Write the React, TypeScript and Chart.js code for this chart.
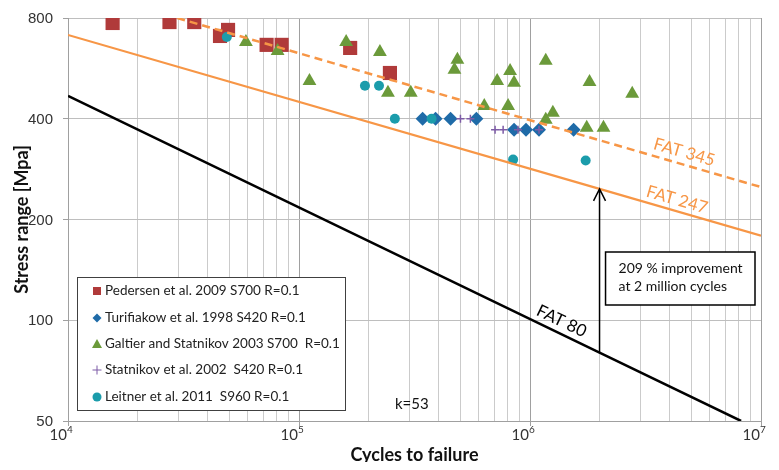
import React, { useEffect, useRef } from 'react';
import { Chart, registerables } from 'chart.js';

Chart.register(...registerables);

// Axis ranges and ticks
const X_MIN = 1e4;
const X_MAX = 1e7;
const Y_MIN = 50;
const Y_MAX = 800;
const Y_TICKS = [50, 100, 200, 400, 800];
const X_DECADE_EXP = [4, 5, 6, 7];

// Test series: cycles to failure (N) and stress range (S, MPa)
const pedersenN = [15600, 27500, 35200, 45500, 49300, 72400, 84100, 166500, 247500];
const pedersenS = [773, 778, 778, 707, 737, 665, 665, 651, 548];

const turifiakowN = [343000, 390000, 453000, 586000, 853000, 961000, 1094000, 1545000];
const turifiakowS = [400, 400, 400, 400, 371, 371, 371, 371];

const galtierN = [58900, 80800, 111000, 160000, 224000, 242700, 304700, 485000, 471000, 634000, 721000,
  820000, 853000, 804000, 1170000, 1256000, 1170000, 1810000, 1760000, 2080000, 2770000];
const galtierS = [678, 638, 519, 678, 633, 478, 478, 600, 560, 437, 519,
  556, 512, 437, 596, 417, 397, 515, 376, 376, 475];

const statnikovN = [500000, 552000, 706000, 765000, 887000, 1094000];
const statnikovS = [400, 400, 371, 371, 371, 371];

const leitnerN = [48700, 193000, 222000, 260000, 375000, 845000, 1742000];
const leitnerS = [702, 502, 502, 400, 400, 302, 300];

// Design S-N curves (straight in log-log)
const fat345N = [29700, 2e6, 1e7];
const fat345S = [800, 345, 250];
const fat247N = [1e4, 2e6, 1e7];
const fat247S = [712, 247, 179];
const fat80N = [1e4, 2e6, 8.2e6];
const fat80S = [468, 80, 50];

// Improvement arrow at 2 million cycles
const improvementN = 2e6;
const improvementFrom = 80;
const improvementTo = 247;

const legendNames = [
  'Pedersen et al. 2009 S700 R=0.1',
  'Turifiakow et al. 1998 S420 R=0.1',
  'Galtier and Statnikov 2003 S700  R=0.1',
  'Statnikov et al. 2002  S420 R=0.1',
  'Leitner et al. 2011  S960 R=0.1',
];

const RED = '#B03A3A';
const BLUE = '#1F6BA8';
const GREEN = '#6B9A3A';
const PURPLE = '#7D5BA6';
const TEAL = '#1B9CAB';
const ORANGE = '#F79646';

const toPts = (xs: number[], ys: number[]) => xs.map((x, i) => ({ x, y: ys[i] }));

export default function App() {
  const ref = useRef<HTMLCanvasElement>(null);

  useEffect(() => {
    const canvas = ref.current;
    if (!canvas) return;

    const overlay = {
      id: 'overlay',
      afterDraw(chart: any) {
        const ctx: CanvasRenderingContext2D = chart.ctx;
        const area = chart.chartArea;
        const xS = chart.scales.x;
        const yS = chart.scales.y;
        ctx.save();

        // y tick labels
        ctx.fillStyle = '#333333';
        ctx.font = '15px "Liberation Sans"';
        ctx.textAlign = 'right';
        ctx.textBaseline = 'middle';
        Y_TICKS.forEach((v) => {
          ctx.fillText(String(v), area.left - 15, yS.getPixelForValue(v) + 1);
        });

        // x tick labels as 10^n
        X_DECADE_EXP.forEach((e) => {
          const px = xS.getPixelForValue(Math.pow(10, e));
          ctx.font = '15px Lato';
          ctx.textAlign = 'right';
          ctx.fillText('10', px - 1, area.bottom + 14);
          ctx.font = '10px Lato';
          ctx.textAlign = 'left';
          ctx.fillText(String(e), px - 1, area.bottom + 9);
        });

        // axis titles
        ctx.fillStyle = '#111111';
        ctx.font = 'bold 18px Lato';
        ctx.textAlign = 'center';
        ctx.fillText('Cycles to failure', (area.left + area.right) / 2, area.bottom + 34);
        ctx.save();
        ctx.translate(area.left - 46, (area.top + area.bottom) / 2);
        ctx.rotate(-Math.PI / 2);
        ctx.fillText('Stress range [Mpa]', 0, 0);
        ctx.restore();

        // labels along the design curves
        const labelOnLine = (text: string, xs: number[], ys: number[], atN: number, offset: number, color: string) => {
          let i = 0;
          while (i < xs.length - 2 && atN > xs[i + 1]) i++;
          const x1 = xS.getPixelForValue(xs[i]);
          const y1 = yS.getPixelForValue(ys[i]);
          const x2 = xS.getPixelForValue(xs[i + 1]);
          const y2 = yS.getPixelForValue(ys[i + 1]);
          const ang = Math.atan2(y2 - y1, x2 - x1);
          const px = xS.getPixelForValue(atN);
          const py = y1 + ((px - x1) / (x2 - x1)) * (y2 - y1);
          ctx.save();
          ctx.translate(px + offset * Math.sin(ang), py - offset * Math.cos(ang));
          ctx.rotate(ang);
          ctx.fillStyle = color;
          ctx.font = '17px Lato';
          ctx.textAlign = 'center';
          ctx.textBaseline = 'middle';
          ctx.fillText(text, 0, 0);
          ctx.restore();
        };
        labelOnLine('FAT 345', fat345N, fat345S, 4.5e6, 12, ORANGE);
        labelOnLine('FAT 247', fat247N, fat247S, 4.2e6, 11, ORANGE);
        labelOnLine('FAT 80', fat80N, fat80S, 1.3e6, 12, '#000000');

        // improvement arrow
        const ax = xS.getPixelForValue(improvementN);
        const ay0 = yS.getPixelForValue(improvementFrom);
        const ay1 = yS.getPixelForValue(improvementTo);
        ctx.strokeStyle = '#000000';
        ctx.lineWidth = 1.5;
        ctx.beginPath();
        ctx.moveTo(ax, ay0);
        ctx.lineTo(ax, ay1);
        ctx.moveTo(ax - 6, ay1 + 12);
        ctx.lineTo(ax, ay1);
        ctx.lineTo(ax + 6, ay1 + 12);
        ctx.stroke();

        // improvement note
        const bx = ax + 6;
        const by = area.top + 234;
        const bw = area.right - 6 - bx;
        const bh = 53;
        ctx.fillStyle = '#FFFFFF';
        ctx.fillRect(bx, by, bw, bh);
        ctx.lineWidth = 1.5;
        ctx.strokeRect(bx, by, bw, bh);
        ctx.fillStyle = '#111111';
        ctx.font = '14px Lato';
        ctx.textAlign = 'left';
        ctx.textBaseline = 'middle';
        ctx.fillText('209 % improvement', bx + 13, by + 16);
        ctx.fillText('at 2 million cycles', bx + 13, by + 34);

        // k label
        ctx.font = '15px Lato';
        ctx.fillText('k=53', area.left + 327, area.top + 386);

        // legend
        const lx = area.left + 9;
        const ly = area.top + 259;
        const lw = 268;
        const lh = 133;
        ctx.fillStyle = '#FFFFFF';
        ctx.fillRect(lx, ly, lw, lh);
        ctx.strokeStyle = '#404040';
        ctx.lineWidth = 1;
        ctx.strokeRect(lx + 0.5, ly + 0.5, lw, lh);
        const rowY = [14, 41, 67, 93, 120];
        legendNames.forEach((name, i) => {
          const cy = ly + rowY[i];
          const cx = lx + 20;
          ctx.beginPath();
          if (i === 0) {
            ctx.fillStyle = RED;
            ctx.fillRect(cx - 4, cy - 4, 8, 8);
          } else if (i === 1) {
            ctx.fillStyle = BLUE;
            ctx.moveTo(cx - 4.5, cy);
            ctx.lineTo(cx, cy - 4.5);
            ctx.lineTo(cx + 4.5, cy);
            ctx.lineTo(cx, cy + 4.5);
            ctx.closePath();
            ctx.fill();
          } else if (i === 2) {
            ctx.fillStyle = GREEN;
            ctx.moveTo(cx, cy - 5);
            ctx.lineTo(cx + 5, cy + 4);
            ctx.lineTo(cx - 5, cy + 4);
            ctx.closePath();
            ctx.fill();
          } else if (i === 3) {
            ctx.strokeStyle = PURPLE;
            ctx.lineWidth = 1;
            ctx.moveTo(cx - 4.5, cy);
            ctx.lineTo(cx + 4.5, cy);
            ctx.moveTo(cx, cy - 4.5);
            ctx.lineTo(cx, cy + 4.5);
            ctx.stroke();
          } else {
            ctx.fillStyle = TEAL;
            ctx.arc(cx, cy, 4.5, 0, Math.PI * 2);
            ctx.fill();
          }
          ctx.fillStyle = '#222222';
          ctx.font = '13.5px Lato';
          ctx.textAlign = 'left';
          ctx.textBaseline = 'middle';
          ctx.fillText(name, lx + 28, cy);
        });

        ctx.restore();
      },
    };

    const isDecade = (v: number) => Math.abs(Math.log10(v) - Math.round(Math.log10(v))) < 1e-9;

    const chart = new Chart(canvas, {
      type: 'scatter',
      data: {
        datasets: [
          {
            label: 'FAT 345',
            data: toPts(fat345N, fat345S),
            showLine: true,
            borderColor: ORANGE,
            borderWidth: 2.5,
            borderDash: [8, 5],
            pointRadius: 0,
            order: 0,
          },
          {
            label: 'FAT 247',
            data: toPts(fat247N, fat247S),
            showLine: true,
            borderColor: ORANGE,
            borderWidth: 2.2,
            pointRadius: 0,
            order: 0,
          },
          {
            label: 'FAT 80',
            data: toPts(fat80N, fat80S),
            showLine: true,
            borderColor: '#000000',
            borderWidth: 2.5,
            pointRadius: 0,
            order: 0,
          },
          {
            label: legendNames[4],
            data: toPts(leitnerN, leitnerS),
            pointStyle: 'circle',
            pointRadius: 5,
            backgroundColor: TEAL,
            borderColor: TEAL,
            borderWidth: 0,
            order: 1,
          },
          {
            label: legendNames[3],
            data: toPts(statnikovN, statnikovS),
            pointStyle: 'cross',
            pointRadius: 4,
            borderColor: PURPLE,
            borderWidth: 1.5,
            order: 2,
          },
          {
            label: legendNames[2],
            data: toPts(galtierN, galtierS),
            pointStyle: 'triangle',
            pointRadius: 8,
            backgroundColor: GREEN,
            borderColor: GREEN,
            borderWidth: 0,
            order: 3,
          },
          {
            label: legendNames[1],
            data: toPts(turifiakowN, turifiakowS),
            pointStyle: 'rectRot',
            pointRadius: 7,
            backgroundColor: BLUE,
            borderColor: BLUE,
            borderWidth: 0,
            order: 4,
          },
          {
            label: legendNames[0],
            data: toPts(pedersenN, pedersenS),
            pointStyle: 'rect',
            pointRadius: 10,
            backgroundColor: RED,
            borderColor: RED,
            borderWidth: 0,
            order: 5,
          },
        ],
      },
      options: {
        responsive: false,
        animation: false,
        events: [],
        layout: { padding: { top: 9, right: 5, left: 0, bottom: 0 } },
        plugins: {
          legend: { display: false },
          tooltip: { enabled: false },
        },
        scales: {
          x: {
            type: 'logarithmic',
            min: X_MIN,
            max: X_MAX,
            afterBuildTicks: (axis: any) => {
              const ticks: { value: number }[] = [];
              for (let e = 4; e < 7; e++) {
                for (let m = 1; m <= 9; m++) ticks.push({ value: m * Math.pow(10, e) });
              }
              ticks.push({ value: 1e7 });
              axis.ticks = ticks;
            },
            afterFit: (axis: any) => {
              axis.height = 45;
            },
            ticks: { display: false },
            grid: {
              color: (c: any) => (c.tick && isDecade(c.tick.value) ? '#A0A0A0' : '#CBCBCB'),
              tickColor: (c: any) => (c.tick && isDecade(c.tick.value) ? '#A0A0A0' : 'rgba(0,0,0,0)'),
              tickLength: 5,
              lineWidth: 1,
            },
            border: { display: true, color: '#A0A0A0' },
          },
          y: {
            type: 'logarithmic',
            min: Y_MIN,
            max: Y_MAX,
            afterBuildTicks: (axis: any) => {
              axis.ticks = Y_TICKS.map((v) => ({ value: v }));
            },
            afterFit: (axis: any) => {
              axis.width = 60;
            },
            ticks: { display: false },
            grid: {
              color: '#BEBEBE',
              tickColor: '#A0A0A0',
              tickLength: 5,
              lineWidth: 1,
            },
            border: { display: true, color: '#A0A0A0' },
          },
        },
      },
      plugins: [overlay],
    } as any);

    return () => chart.destroy();
  }, []);

  return (
    <div style={{ width: 763, height: 458, marginBottom: -4 }}>
      <canvas ref={ref} width={763} height={458} style={{ display: 'block' }} />
    </div>
  );
}
